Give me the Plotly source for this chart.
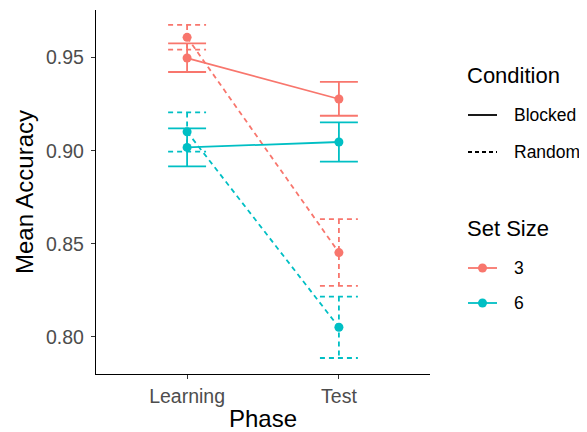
import plotly.graph_objects as go

phases = ["Learning", "Test"]
x_pos = [1, 2]

# mean accuracy and error bar bounds per series (set size, condition)
mean_3_blocked = [0.9498, 0.9278]
lo_3_blocked = [0.9423, 0.9188]
hi_3_blocked = [0.9577, 0.9370]

mean_3_random = [0.9609, 0.8453]
lo_3_random = [0.9543, 0.8274]
hi_3_random = [0.9676, 0.8633]

mean_6_blocked = [0.9018, 0.9047]
lo_6_blocked = [0.8916, 0.8942]
hi_6_blocked = [0.9120, 0.9152]

mean_6_random = [0.9102, 0.8052]
lo_6_random = [0.8995, 0.7887]
hi_6_random = [0.9206, 0.8217]

y_ticks = [0.80, 0.85, 0.90, 0.95]

RED = "#F8766D"
TEAL = "#00BFC4"
FONT = "Liberation Sans, Arial, sans-serif"
DASH = "5px,4px"
LW = 1.8
HALF = 0.125

series = [
    (mean_3_blocked, lo_3_blocked, hi_3_blocked, RED, "solid"),
    (mean_3_random, lo_3_random, hi_3_random, RED, DASH),
    (mean_6_blocked, lo_6_blocked, hi_6_blocked, TEAL, "solid"),
    (mean_6_random, lo_6_random, hi_6_random, TEAL, DASH),
]

fig = go.Figure()
for mean, lo, hi, col, dash in series:
    fig.add_trace(go.Scatter(x=x_pos, y=mean, mode="lines",
                             line=dict(color=col, width=LW, dash=dash),
                             showlegend=False, hoverinfo="skip"))
    ex, ey = [], []
    for xi, l, h in zip(x_pos, lo, hi):
        ex += [xi - HALF, xi + HALF, None, xi, xi, None, xi - HALF, xi + HALF, None]
        ey += [h, h, None, h, l, None, l, l, None]
    fig.add_trace(go.Scatter(x=ex, y=ey, mode="lines",
                             line=dict(color=col, width=LW, dash=dash),
                             showlegend=False, hoverinfo="skip"))
    fig.add_trace(go.Scatter(x=x_pos, y=mean, mode="markers",
                             marker=dict(color=col, size=9),
                             showlegend=False))

# page body has an 8px margin: compensate so the plot lands where the reference has it
OFF = 8
W, H = 587 - OFF, 432 - OFF
L, R, T, B = 96 - OFF, 430 - OFF, 10 - OFF, 374 - OFF

def px(x):  # x in window pixels -> paper
    return (x - OFF - L) / (R - L)
def py(y):
    return (B - (y - OFF)) / (B - T)

ann = []
shapes = []
def text(x, y, s, size):
    ann.append(dict(x=px(x), y=py(y), xref="paper", yref="paper", text=s,
                    showarrow=False, xanchor="left", yanchor="middle",
                    font=dict(family=FONT, size=size, color="black")))

text(465, 75, "Condition", 22)
text(465, 228, "Set Size", 22)
leg_items = [(115, "Blocked", "black", "solid", False),
             (152, "Random", "black", "dash", False),
             (268, "3", RED, "solid", True),
             (303, "6", TEAL, "solid", True)]
for y, s, col, dash, dot in leg_items:
    shapes.append(dict(type="line", xref="paper", yref="paper",
                       x0=px(468), x1=px(497), y0=py(y), y1=py(y),
                       line=dict(color=col, width=LW,
                                 dash=("4px,3px" if dash == "dash" else "solid"))))
    if dot:
        shapes.append(dict(type="circle", xref="paper", yref="paper",
                           x0=px(478), x1=px(487), y0=py(y + 4.5), y1=py(y - 4.5),
                           fillcolor=col, line=dict(color=col, width=0)))
    text(512, y, s, 17.5)

fig.update_layout(
    width=W, height=H,
    margin=dict(l=L, r=W - R, t=T, b=H - B, autoexpand=False),
    plot_bgcolor="white", paper_bgcolor="white",
    showlegend=False,
    annotations=ann, shapes=shapes,
    font=dict(family=FONT),
    xaxis=dict(range=[0.4, 2.6], tickvals=x_pos, ticktext=phases,
               showgrid=False, zeroline=False, showline=True,
               linecolor="black", linewidth=1.3,
               ticks="outside", ticklen=4, tickcolor="#333333", tickwidth=1,
               tickfont=dict(family=FONT, size=19.5, color="#4D4D4D"),
               title=dict(text="Phase", standoff=8,
                          font=dict(family=FONT, size=24, color="black"))),
    yaxis=dict(range=[0.7801, 0.9756], tickvals=y_ticks,
               ticktext=[f"{v:.2f}" for v in y_ticks],
               showgrid=False, zeroline=False, showline=True,
               linecolor="black", linewidth=1.3,
               ticks="outside", ticklen=4, tickcolor="#333333", tickwidth=1,
               ticklabelstandoff=3,
               tickfont=dict(family=FONT, size=19.5, color="#4D4D4D"),
               title=dict(text="Mean Accuracy", standoff=5,
                          font=dict(family=FONT, size=24, color="black"))),
)

fig.write_html("out.html")
